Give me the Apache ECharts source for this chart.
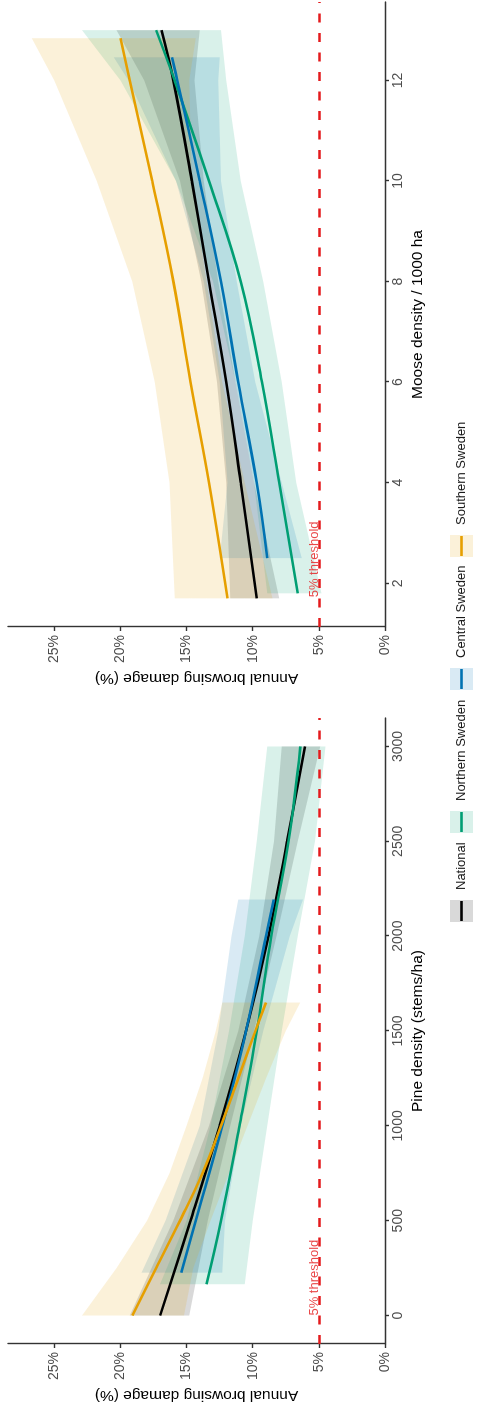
<!DOCTYPE html>
<html lang="en">
<head>
<meta charset="UTF-8">
<title>Annual browsing damage</title>
<style>
    html, body {margin:0; padding:0; width:477px; height:1415px; overflow:hidden; background:#fff;}
    /* the figure is drawn landscape and turned a quarter turn to the left */
    #chart {position:absolute; left:0; top:0; width:1415px; height:477px;
        transform-origin:0 0; transform:rotate(-90deg) translate(-1415px, 0);}
</style>
</head>
<body>
<div id="chart"></div>
<script src="https://cdn.jsdelivr.net/npm/echarts@6/dist/echarts.min.js"></script>
<script>
    // ---------- data (damage in %) ----------
    const damageTicks = [0, 5, 10, 15, 20, 25];
    const pineTicks = [0, 500, 1000, 1500, 2000, 2500, 3000];
    const mooseTicks = [2, 4, 6, 8, 10, 12];
    const threshold = 5;
    const thresholdLabelAt = [0, 1.72]; // pine, moose

    // pine density panel
    const pineNationalX = [0, 500, 1000, 1500, 2000, 2500, 3000];
    const pineNationalMean = [17.0, 14.7, 12.5, 10.5, 8.8, 7.4, 6.05];
    const pineNationalLo = [14.8, 13.4, 11.7, 9.9, 8.2, 6.6, 4.9];
    const pineNationalHi = [19.3, 16.0, 13.3, 11.1, 9.5, 8.4, 7.8];

    const pineNorthernX = [165, 500, 1000, 1500, 2000, 2500, 3000];
    const pineNorthernMean = [13.5, 12.4, 11.0, 9.7, 8.6, 7.3, 6.4];
    const pineNorthernLo = [10.6, 10.0, 8.9, 7.8, 6.6, 5.3, 4.5];
    const pineNorthernHi = [17.0, 15.0, 13.2, 11.8, 10.6, 9.7, 8.9];

    const pineCentralX = [226, 500, 1000, 1500, 2000, 2193];
    const pineCentralMean = [15.4, 14.3, 12.3, 10.5, 9.0, 8.4];
    const pineCentralLo = [12.3, 12.1, 10.9, 9.2, 7.2, 6.2];
    const pineCentralHi = [18.4, 16.6, 14.0, 12.6, 11.6, 11.1];

    const pineSouthernX = [0, 250, 500, 750, 1000, 1250, 1500, 1650];
    const pineSouthernMean = [19.1, 17.3, 15.5, 13.8, 12.4, 11.1, 9.8, 9.0];
    const pineSouthernLo = [15.2, 14.5, 13.2, 11.8, 10.4, 9.0, 7.5, 6.4];
    const pineSouthernHi = [22.9, 20.3, 18.0, 16.3, 15.0, 13.8, 12.8, 12.3];

    // moose density panel
    const mooseNationalX = [1.7, 4, 6, 8, 10, 12, 13];
    const mooseNationalMean = [9.7, 10.9, 12.0, 13.3, 14.6, 16.0, 16.9];
    const mooseNationalLo = [8.0, 9.9, 11.3, 12.6, 13.7, 14.4, 14.0];
    const mooseNationalHi = [11.7, 12.0, 12.7, 13.9, 15.5, 18.2, 20.3];

    const mooseNorthernX = [1.8, 4, 6, 8, 10, 12, 13];
    const mooseNorthernMean = [6.6, 8.0, 9.3, 10.9, 13.3, 15.9, 17.3];
    const mooseNorthernLo = [4.8, 6.7, 7.8, 9.2, 10.9, 12.0, 12.4];
    const mooseNorthernHi = [8.9, 9.9, 11.3, 13.0, 15.8, 20.0, 22.9];

    const mooseCentralX = [2.5, 4, 6, 8, 10, 12, 12.46];
    const mooseCentralMean = [8.9, 9.7, 11.1, 12.4, 14.0, 15.7, 16.1];
    const mooseCentralLo = [6.3, 7.8, 9.8, 11.2, 12.4, 12.6, 12.5];
    const mooseCentralHi = [12.5, 11.9, 12.5, 13.7, 15.8, 19.4, 20.5];

    const mooseSouthernX = [1.7, 4, 6, 8, 10, 12, 12.84];
    const mooseSouthernMean = [11.9, 13.3, 14.7, 16.0, 17.6, 19.3, 20.0];
    const mooseSouthernLo = [8.5, 10.6, 12.3, 13.5, 14.6, 14.8, 14.3];
    const mooseSouthernHi = [15.9, 16.3, 17.4, 19.1, 21.8, 25.0, 26.7];

    const regionNames = ['National', 'Northern Sweden', 'Central Sweden', 'Southern Sweden'];
    // ----------------------------------------

    const lineColors = ['#000000', '#009E73', '#0072B2', '#E69F00'];
    const bandColors = ['rgba(128,128,128,0.3)', 'rgba(0,158,115,0.15)', 'rgba(0,114,178,0.15)', 'rgba(230,159,0,0.15)'];
    const font = '"Liberation Sans", Arial, sans-serif';

    const panels = [
        [[pineNationalX, pineNationalMean, pineNationalLo, pineNationalHi],
         [pineNorthernX, pineNorthernMean, pineNorthernLo, pineNorthernHi],
         [pineCentralX, pineCentralMean, pineCentralLo, pineCentralHi],
         [pineSouthernX, pineSouthernMean, pineSouthernLo, pineSouthernHi]],
        [[mooseNationalX, mooseNationalMean, mooseNationalLo, mooseNationalHi],
         [mooseNorthernX, mooseNorthernMean, mooseNorthernLo, mooseNorthernHi],
         [mooseCentralX, mooseCentralMean, mooseCentralLo, mooseCentralHi],
         [mooseSouthernX, mooseSouthernMean, mooseSouthernLo, mooseSouthernHi]]
    ];

    function band(xs, lo, hi, color, g){
        return {
            type: 'custom', xAxisIndex: g, yAxisIndex: g, z: 1, silent: true,
            data: xs.map((x, i) => [x, lo[i], hi[i]]),
            encode: {x: 0, y: [1, 2]},
            renderItem: function(params, api){
                if (params.dataIndex !== 0) return null;
                let top = xs.map((x, i) => api.coord([x, hi[i]]));
                let bot = xs.map((x, i) => api.coord([x, lo[i]])).reverse();
                return {type: 'polygon', shape: {points: top.concat(bot)}, style: {fill: color}};
            }
        };
    }

    function curve(name, xs, mean, color, g){
        return {
            name: name, type: 'line', xAxisIndex: g, yAxisIndex: g, z: 3, silent: true,
            data: xs.map((x, i) => [x, mean[i]]),
            showSymbol: false, smooth: 0.4,
            lineStyle: {color: color, width: 2.6}
        };
    }

    function thresholdSeries(g){
        return {
            type: 'scatter', xAxisIndex: g, yAxisIndex: g, z: 5, silent: true,
            data: [[thresholdLabelAt[g], threshold]],
            symbolSize: 0,
            label: {show: true, formatter: '5% threshold', position: 'right', distance: 0, offset: [0, -4],
                color: '#E41A1C', fontSize: 13, fontFamily: font},
            markLine: {
                silent: true, symbol: 'none', animation: false,
                label: {show: false},
                lineStyle: {color: '#E41A1C', width: 2.6, type: [9, 10.5]},
                data: [{yAxis: threshold}]
            }
        };
    }

    let series = [];
    panels.forEach(function(panel, g){
        panel.forEach(function(s, k){ series.push(band(s[0], s[2], s[3], bandColors[k], g)); });
        panel.forEach(function(s, k){ series.push(curve(regionNames[k], s[0], s[1], lineColors[k], g)); });
        series.push(thresholdSeries(g));
    });

    const axisLine = {show: true, onZero: false, lineStyle: {color: '#333', width: 1.4}};

    function xAxis(g, min, max, ticks, name){
        return {
            gridIndex: g, type: 'value', min: min, max: max,
            name: name, nameLocation: 'middle', nameGap: 24,
            nameTextStyle: {fontSize: 15.5, color: '#000', fontFamily: font},
            axisLine: axisLine,
            axisTick: {show: true, length: 4, customValues: ticks, lineStyle: {color: '#333', width: 1.4}},
            axisLabel: {customValues: ticks, fontSize: 14, color: '#4d4d4d', margin: 6, fontFamily: font,
                formatter: v => String(v)},
            splitLine: {show: false}
        };
    }

    function yAxis(g){
        return {
            gridIndex: g, type: 'value', min: 0, max: 28.5,
            name: 'Annual browsing damage (%)', nameLocation: 'middle', nameGap: 43,
            nameTextStyle: {fontSize: 15.5, color: '#000', fontFamily: font},
            axisLine: axisLine,
            axisTick: {show: true, length: 4, customValues: damageTicks, lineStyle: {color: '#333', width: 1.4}},
            axisLabel: {customValues: damageTicks, fontSize: 14, color: '#4d4d4d', margin: 8, fontFamily: font,
                formatter: v => v + '%'},
            splitLine: {show: false}
        };
    }

    // legend keys: tinted box with the line through it
    const keyX = [493, 582, 725, 858];
    let legendGraphic = [];
    regionNames.forEach(function(name, k){
        legendGraphic.push({type: 'rect', silent: true, shape: {x: keyX[k], y: 450, width: 22, height: 23},
            style: {fill: bandColors[k]}});
        legendGraphic.push({type: 'line', silent: true, shape: {x1: keyX[k] + 1, y1: 461.5, x2: keyX[k] + 21, y2: 461.5},
            style: {stroke: lineColors[k], lineWidth: 2.6}});
        legendGraphic.push({type: 'text', silent: true, x: keyX[k] + 32, y: 461.5,
            style: {text: name, fill: '#1a1a1a', fontSize: 13, fontFamily: font, verticalAlign: 'middle'}});
    });

    let chart = echarts.init(document.getElementById('chart'), null, {renderer: 'canvas', width: 1415, height: 477});
    chart.setOption({
        animation: false,
        backgroundColor: '#fff',
        textStyle: {fontFamily: font},
        grid: [
            {left: 71, right: 718, top: 8, bottom: 92, outerBoundsMode: 'none'},
            {left: 788, right: 2, top: 8, bottom: 92, outerBoundsMode: 'none'}
        ],
        xAxis: [
            xAxis(0, -150, 3150, pineTicks, 'Pine density (stems/ha)'),
            xAxis(1, 1.13, 13.56, mooseTicks, 'Moose density / 1000 ha')
        ],
        yAxis: [yAxis(0), yAxis(1)],
        graphic: legendGraphic,
        series: series
    });
</script>
</body>
</html>
